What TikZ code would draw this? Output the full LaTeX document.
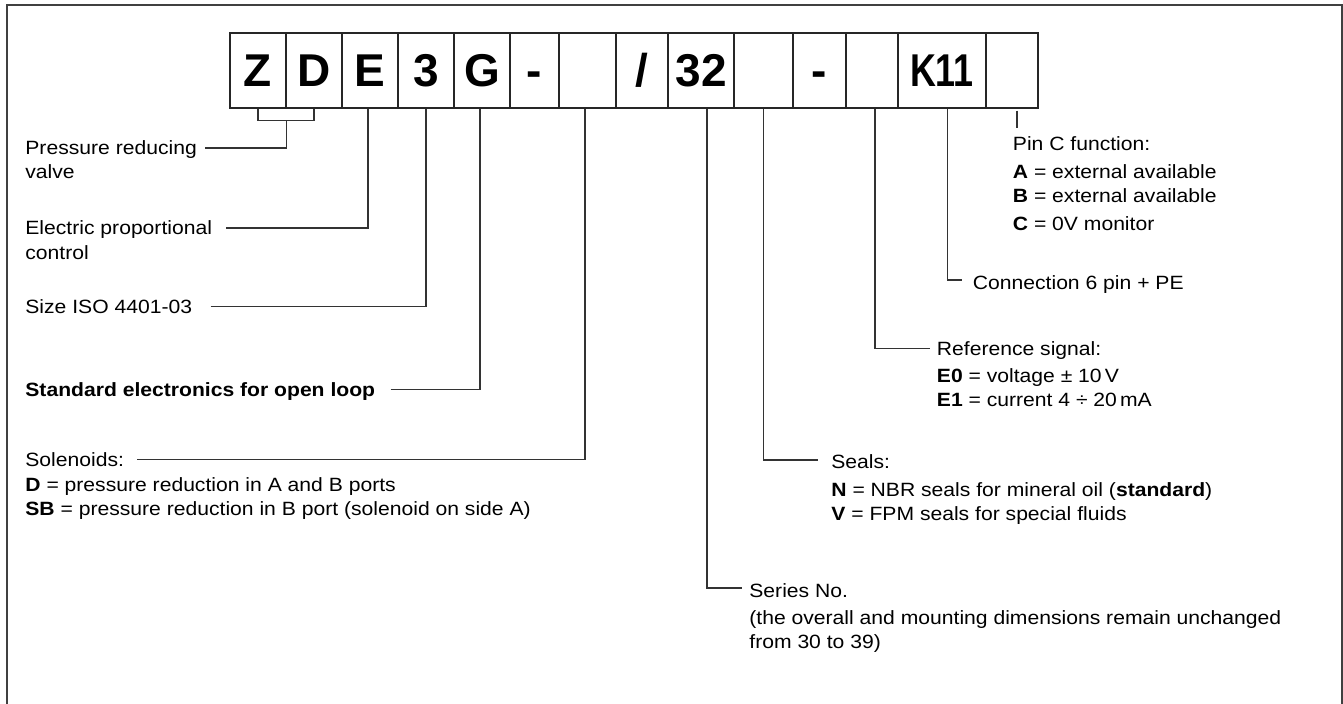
\documentclass[tikz,border=0pt]{standalone}
\usepackage{fontspec}
\setmainfont{Liberation Sans}[FakeStretch=1.1]
\newfontfamily\cellfont{Liberation Sans}

\begin{document}
\begin{tikzpicture}[x=0.5pt,y=-0.5pt,font=\fontsize{9.6}{12}\selectfont,
 cell/.style={draw=black!85,line width=.75pt,minimum height=37.5pt,inner sep=0pt,
   text height=16.5pt,text depth=0pt,font=\cellfont\bfseries\fontsize{23}{23}\selectfont},
 lab/.style={anchor=west,inner sep=0pt,text height=6.9pt,text depth=0pt},
 ln/.style={draw=black!80,line width=.65pt}]
\useasboundingbox (0,0) rectangle (1343,704);
% frame, open at the bottom
\draw[black!75,line width=1pt] (7,704) -- (7,5) -- (1341.5,5) -- (1341.5,704);
% code cells
\foreach \n/\l/\r/\t in {1/230/286/Z,2/286/342/D,3/342/398/E,4/398/454/3,5/454/510/G,
  6/510/559/-,7/559/616/{},8/616/668/{/},9/668/734/32,10/734/793/{},11/793/846/-,
  12/846/898/{},13/898/986/{\scalebox{0.78}[1]{K11}},14/986/1038/{}}
 {\node[cell,minimum width={(\r-\l)*0.5pt}] (c\n) at ({(\l+\r)/2},70.5) {\t};}
% left labels
\node[lab] (prv) at (25,148) {Pressure reducing};
\node[lab] (prv2) at (25,172) {valve};
\coordinate (zd) at ([yshift=-6pt]c1.south east);
\draw[ln] (c1.south) -- (c1.south |- zd) -- (c2.south |- zd) -- (c2.south);
\draw[ln] ([xshift=4pt]prv.east) -| (zd);
\node[lab] (epc) at (25,228) {Electric proportional};
\node[lab] (epc2) at (25,252.5) {control};
\draw[ln] ([xshift=7pt]epc.east) -| ([xshift=-1pt]c3.south);
\node[lab] (iso) at (25,306.5) {Size ISO 4401-03};
\draw[ln] ([xshift=9pt]iso.east) -| (c4.south);
\node[lab] (std) at (25,389.5) {\textbf{Standard electronics for open loop}};
\draw[ln] ([xshift=7.5pt]std.east) -| ([xshift=-1pt]c5.south);
\node[lab] (sol) at (25,459.5) {Solenoids:};
\node[lab] (sol2) at (25,485) {\textbf{D} = pressure reduction in A and B ports};
\node[lab] (sol3) at (25,509) {\textbf{SB} = pressure reduction in B port (solenoid on side A)};
\draw[ln] ([xshift=6.5pt]sol.east) -| ([xshift=-1.25pt]c7.south);
% right labels
\node[lab] (pin) at (1012.5,144) {Pin C function:};
\node[lab] (pin2) at (1012.5,172) {\textbf{A} = external available};
\node[lab] (pin3) at (1012.5,196) {\textbf{B} = external available};
\node[lab] (pin4) at (1012.5,224) {\textbf{C} = 0V monitor};
\draw[ln,shorten >=4.5pt] ([xshift=2.5pt,yshift=-1pt]c14.south) -- ([xshift=2.5pt]c14.south |- pin.north);
\node[lab] (con) at (972.5,282.5) {Connection 6 pin + PE};
\draw[ln] ([xshift=2.85pt]c13.south) |- ([xshift=-5.5pt,yshift=1.3pt]con.west);
\node[lab] (ref) at (936.5,348.5) {Reference signal:};
\node[lab] (ref2) at (936.5,376) {\textbf{E0} = voltage ± 10\,V};
\node[lab] (ref3) at (936.5,399.5) {\textbf{E1} = current 4 ÷ 20\,mA};
\draw[ln] ([xshift=1.5pt]c12.south) |- ([xshift=-3.25pt]ref.west);
\node[lab] (sea) at (831,462) {Seals:};
\node[lab] (sea2) at (831,489.5) {\textbf{N} = NBR seals for mineral oil (\textbf{standard})};
\node[lab] (sea3) at (831,513.5) {\textbf{V} = FPM seals for special fluids};
\draw[ln] (c10.south) |- ([xshift=-6.5pt,yshift=1pt]sea.west);
\node[lab] (ser) at (749,591) {Series No.};
\node[lab] (ser2) at (749,618) {(the overall and mounting dimensions remain unchanged};
\node[lab] (ser3) at (749,642) {from 30 to 39)};
\draw[ln] ([xshift=3pt]c9.south) |- ([xshift=-3.75pt,yshift=1.5pt]ser.west);
\end{tikzpicture}
\end{document}
